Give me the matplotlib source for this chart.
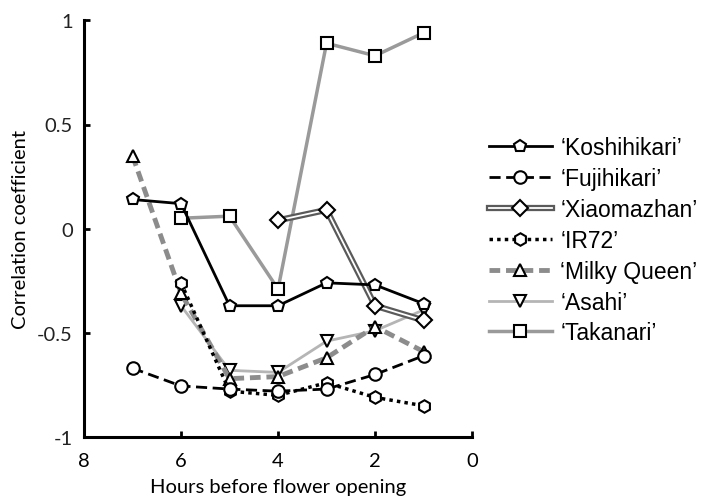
import matplotlib.pyplot as plt
from matplotlib.legend_handler import HandlerTuple

plt.rcParams['font.family'] = ['Lato', 'DejaVu Sans']

hours = [7, 6, 5, 4, 3, 2, 1]
koshihikari = [0.14, 0.12, -0.37, -0.37, -0.26, -0.27, -0.36]
fujihikari = [-0.67, -0.755, -0.77, -0.78, -0.77, -0.70, -0.61]
xiao_hours = [4, 3, 2, 1]
xiaomazhan = [0.04, 0.09, -0.37, -0.44]
ir_hours = [6, 5, 4, 3, 2, 1]
ir72 = [-0.26, -0.78, -0.80, -0.74, -0.81, -0.85]
milky_queen = [0.35, -0.31, -0.72, -0.71, -0.62, -0.47, -0.59]
asahi_hours = [6, 5, 4, 3, 2, 1]
asahi = [-0.37, -0.68, -0.69, -0.54, -0.49, -0.39]
tak_hours = [6, 5, 4, 3, 2, 1]
takanari = [0.05, 0.06, -0.29, 0.89, 0.83, 0.94]

labels = ['\u2018Koshihikari\u2019', '\u2018Fujihikari\u2019', '\u2018Xiaomazhan\u2019',
          '\u2018IR72\u2019', '\u2018Milky Queen\u2019', '\u2018Asahi\u2019', '\u2018Takanari\u2019']

fig = plt.figure(figsize=(7.03, 5.02), dpi=100)
ax = fig.add_axes([0.1195, 0.1275, 0.552, 0.83])

mk = dict(markerfacecolor='white', markeredgecolor='black', markersize=9, markeredgewidth=1.5)

h_tak, = ax.plot(tak_hours, takanari, color='#9a9a9a', lw=2.5, marker='s', **mk)
h_asa, = ax.plot(asahi_hours, asahi, color='#b5b5b5', lw=2, marker='v', **mk)
h_mq, = ax.plot(hours, milky_queen, color='#8c8c8c', lw=3.5, ls=(0, (2.2, 1.2)), marker='^', **mk)
h_ir, = ax.plot(ir_hours, ir72, color='black', lw=2.5, ls=(0, (1, 1.2)), marker='h', **mk)
h_xo, = ax.plot(xiao_hours, xiaomazhan, color='#5a5a5a', lw=4.5)
h_xi, = ax.plot(xiao_hours, xiaomazhan, color='white', lw=1.3, marker='D', **dict(mk, markersize=8))
h_fu, = ax.plot(hours, fujihikari, color='black', lw=2, ls=(0, (4, 2)), marker='o', **mk)
h_ko, = ax.plot(hours, koshihikari, color='black', lw=2, marker='p', **mk)

ax.set_xlim(8, 0)
ax.set_ylim(-1, 1)
ax.set_xticks([8, 6, 4, 2, 0])
ax.set_yticks([-1, -0.5, 0, 0.5, 1])
ax.set_yticklabels(['-1', '-0.5', '0', '0.5', '1'])
ax.spines['top'].set_visible(False)
ax.spines['right'].set_visible(False)
ax.spines['left'].set_linewidth(2.2)
ax.spines['bottom'].set_linewidth(2.2)
ax.tick_params(direction='in', length=4, width=2, labelsize=14.5, pad=8, colors='black')
ax.tick_params(axis='x', pad=11)
ax.tick_params(axis='y', labelcolor='#222222')
ax.set_xlabel('Hours before flower opening', fontsize=14.5, labelpad=6)
ax.set_ylabel('Correlation coefficient', fontsize=14.5, labelpad=6)

handles = [h_ko, h_fu, (h_xo, h_xi), h_ir, h_mq, h_asa, h_tak]
fig.legend(handles, labels, loc='upper left', bbox_to_anchor=(0.695, 0.727),
           frameon=False, handlelength=2.75, handletextpad=0.38,
           labelspacing=0.345, borderaxespad=0, borderpad=0,
           prop={'family': ['Liberation Sans', 'DejaVu Sans'], 'size': 16.5},
           handler_map={tuple: HandlerTuple(ndivide=1)})

fig.savefig('out.png', dpi=100)
